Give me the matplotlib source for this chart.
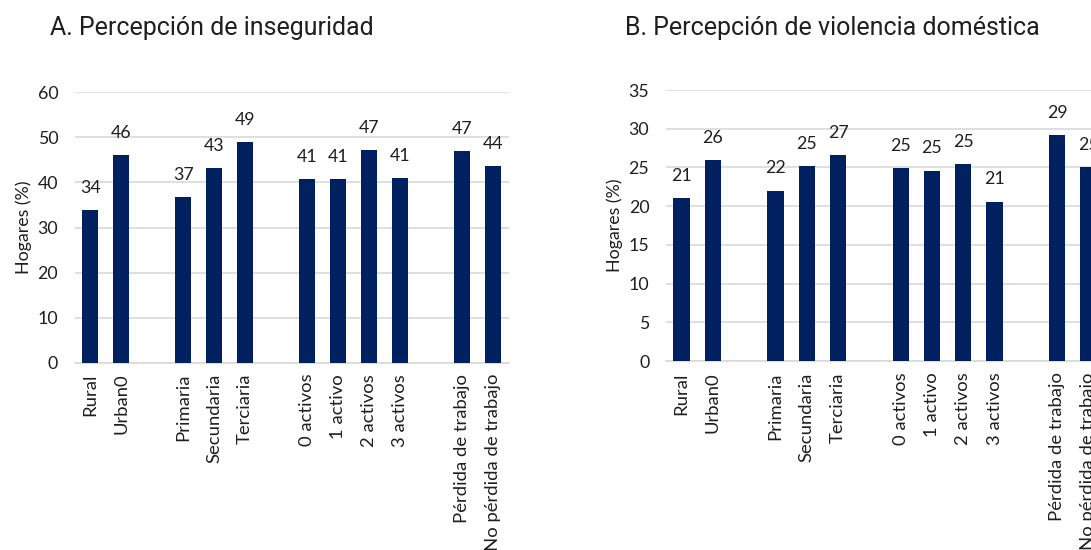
import matplotlib
matplotlib.use("Agg")
import matplotlib.pyplot as plt

bar_colour = "#002060"
grid_colour = "#d9d9d9"
text_colour = "#1f1f1f"

categories = ["Rural", "Urban0", "",
              "Primaria", "Secundaria", "Terciaria", "",
              "0 activos", "1 activo", "2 activos", "3 activos", "",
              "Pérdida de trabajo", "No pérdida de trabajo"]

# None marks the empty slots between groups
inseguridad = [33.8, 46.1, None,
               36.8, 43.2, 48.9, None,
               40.7, 40.7, 47.2, 40.9, None,
               47.0, 43.6]

violencia = [21.0, 25.9, None,
             22.0, 25.2, 26.6, None,
             24.9, 24.6, 25.4, 20.6, None,
             29.2, 25.0]

titles = ["A. Percepción de inseguridad", "B. Percepción de violencia doméstica"]
ylims = [(0, 60, 10), (0, 35, 5)]

plt.rcParams['font.family'] = ['Lato', 'DejaVu Sans']

fig = plt.figure(figsize=(10.91, 5.5), dpi=100)
ax_a = fig.add_axes([0.0686, 0.3405, 0.3975, 0.4916])
ax_b = fig.add_axes([0.6104, 0.3436, 0.4016, 0.4927])


def draw(ax, values, lim):
    xs = [i for i, v in enumerate(values) if v is not None]
    hs = [v for v in values if v is not None]
    ax.bar(xs, hs, width=0.52, color=bar_colour, zorder=3)
    for x, h in zip(xs, hs):
        ax.annotate(f"{round(h)}", (x, h), xytext=(0, 16), textcoords="offset points",
                    ha="center", va="center", fontsize=12.8, color=text_colour)
    lo, hi, step = lim
    ax.set_ylim(lo, hi)
    ax.set_yticks(range(lo, hi + 1, step))
    ax.set_xlim(-0.5, len(values) - 0.5)
    ax.set_xticks(range(len(values)))
    ax.set_xticklabels(categories, rotation=90, va="top", ha="center")
    ax.tick_params(axis="y", length=0, labelsize=12.8, labelcolor=text_colour, pad=12)
    ax.tick_params(axis="x", length=0, labelsize=13.3, labelcolor=text_colour, pad=8)
    ax.grid(axis="y", color=grid_colour, linewidth=1.2, zorder=0)
    for s in ["top", "right", "left"]:
        ax.spines[s].set_visible(False)
    ax.spines["bottom"].set_color(grid_colour)
    ax.spines["bottom"].set_linewidth(1.2)
    ax.set_ylabel("Hogares (%)", fontsize=12.8, color=text_colour, labelpad=4)


draw(ax_a, inseguridad, ylims[0])
draw(ax_b, violencia, ylims[1])

fig.text(50 / 1091, 1 - 28 / 550, titles[0], fontsize=18, va="center", ha="left",
         family=["Liberation Sans Narrow", "Roboto", "DejaVu Sans"], color=text_colour)
fig.text(625 / 1091, 1 - 28 / 550, titles[1], fontsize=18, va="center", ha="left",
         family=["Liberation Sans Narrow", "Roboto", "DejaVu Sans"], color=text_colour)

fig.savefig("out.png", dpi=100)
